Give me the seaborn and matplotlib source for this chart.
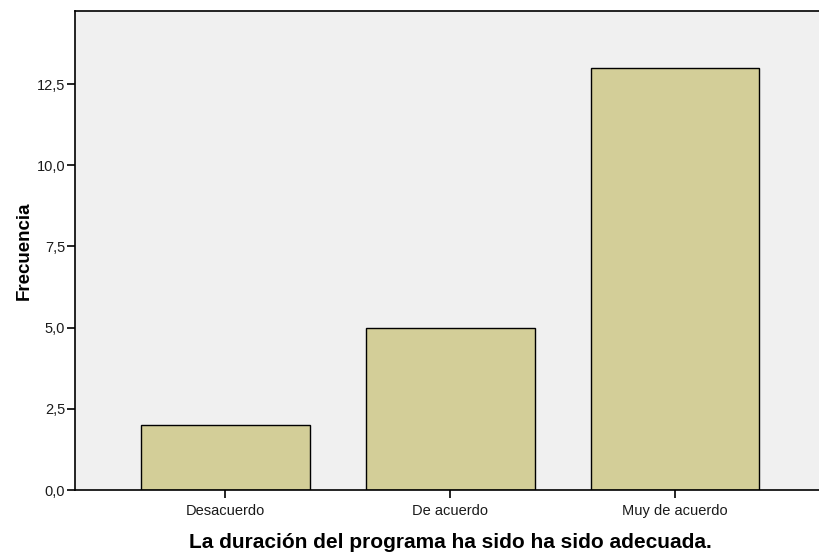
import matplotlib
matplotlib.use("Agg")
import matplotlib.pyplot as plt
from matplotlib.ticker import FuncFormatter
import pandas as pd
import seaborn as sns

categories = ["Desacuerdo", "De acuerdo", "Muy de acuerdo"]
frequencies = [2, 5, 13]
y_ticks = [0, 2.5, 5, 7.5, 10, 12.5]

BG = "#f0f0f0"
BAR = "#d3ce98"

sns.set_style("white")
plt.rcParams["font.family"] = ["Liberation Sans", "DejaVu Sans"]

df = pd.DataFrame({"categoria": categories, "frecuencia": frequencies})

fig = plt.figure(figsize=(8.19, 5.52), dpi=100)
ax = fig.add_axes([75 / 819, 62 / 552, 750.5 / 819, 479 / 552])
ax.set_facecolor(BG)

sns.barplot(data=df, x="categoria", y="frecuencia", color=BAR, width=0.75,
            edgecolor="black", linewidth=1.0, saturation=1, ax=ax, zorder=2)

ax.set_xlim(-0.669, 2.669)
ax.set_ylim(0, 14.75)
ax.set_yticks(y_ticks)
ax.yaxis.set_major_formatter(FuncFormatter(lambda v, p: f"{v:.1f}".replace(".", ",")))

for s in ["left", "top", "bottom"]:
    ax.spines[s].set_visible(True)
    ax.spines[s].set_color("black")
    ax.spines[s].set_linewidth(1.2)
ax.spines["right"].set_visible(False)

ax.tick_params(axis="both", direction="out", length=6, width=1.2, color="black",
               labelsize=10.5, labelcolor="#1a1a1a", left=True, bottom=True)
ax.tick_params(axis="y", pad=1)
ax.tick_params(axis="x", pad=4)

ax.set_xlabel("La duración del programa ha sido ha sido adecuada.",
              fontsize=15, fontweight="bold", color="black", labelpad=11)
ax.set_ylabel("Frecuencia", fontsize=13.5, fontweight="bold", color="black", labelpad=3)

fig.savefig("out.png", dpi=100)
